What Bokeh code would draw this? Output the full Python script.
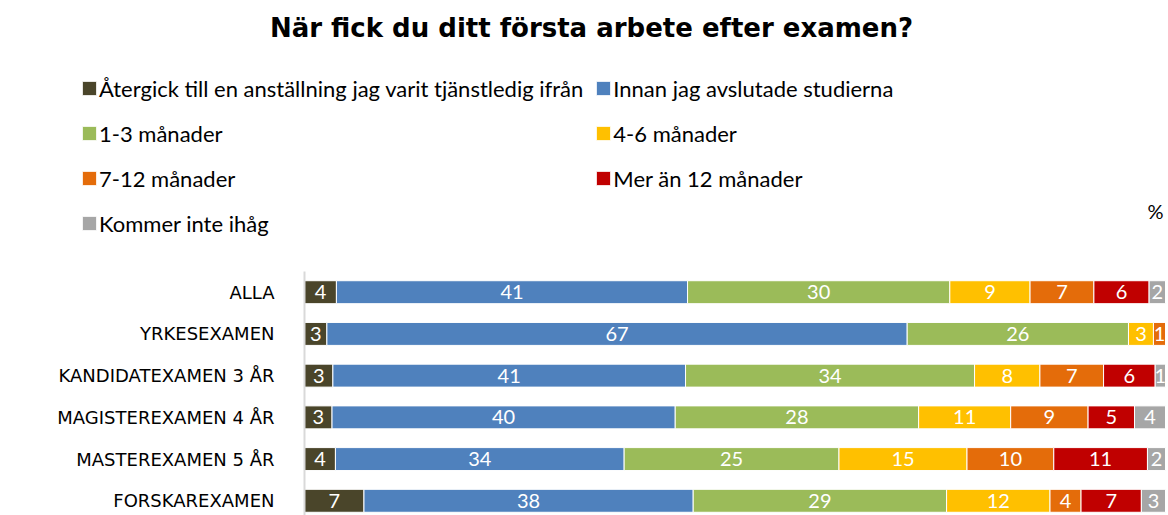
import math
from bokeh.plotting import figure
from bokeh.models import ColumnDataSource, Range1d, FixedTicker, Legend, LegendItem, Label
from bokeh.core.properties import value
from bokeh.embed import file_html
from bokeh.resources import INLINE

title_text = "När fick du ditt första arbete efter examen?"
categories = ["ALLA", "YRKESEXAMEN", "KANDIDATEXAMEN 3 ÅR", "MAGISTEREXAMEN 4 ÅR",
              "MASTEREXAMEN 5 ÅR", "FORSKAREXAMEN"]
series_names = ["Återgick till en anställning jag varit tjänstledig ifrån",
                "Innan jag avslutade studierna", "1-3 månader", "4-6 månader",
                "7-12 månader", "Mer än 12 månader", "Kommer inte ihåg"]

aterg = [3.7, 2.6, 3.3, 3.2, 3.6, 6.9]
innan = [40.7, 67.4, 41.0, 39.9, 33.6, 38.2]
m1_3 = [30.4, 25.7, 33.6, 28.3, 25.0, 29.4]
m4_6 = [9.3, 2.9, 7.6, 10.7, 14.9, 12.0]
m7_12 = [7.4, 1.4, 7.4, 9.0, 10.1, 3.6]
m12p = [6.4, 0.0, 6.0, 5.4, 10.9, 7.0]
komm = [1.9, 0.0, 1.2, 3.6, 2.1, 2.8]

colors = ["#4a452a", "#4f81bd", "#9bbb59", "#ffc000", "#e46c0a", "#c00000", "#a6a6a6"]

series = [aterg, innan, m1_3, m4_6, m7_12, m12p, komm]
n = len(categories)
ypos = [n - 1 - i for i in range(n)]
totals = [sum(s[i] for s in series) for i in range(n)]

data = {"y": ypos}
keys = []
for j, s in enumerate(series):
    k = f"s{j}"
    keys.append(k)
    data[k] = [s[i] / totals[i] * 100 for i in range(n)]
src = ColumnDataSource(data)

W, H = 1168, 515
# plot area spans the whole figure; x=0..100 maps to px 304..1165, rows 41.72 px apart
x0_px, x100_px = 304, 1165
xs = 100 / (x100_px - x0_px)
ys = 1 / 41.72
top_row_px, bottom_row_px, axis_top_px = 291.7, 500.3, 271
p = figure(width=W, height=H, output_backend="svg", toolbar_location=None,
           x_range=Range1d(-x0_px * xs, 100 + (W - x100_px) * xs),
           y_range=Range1d(-(H - bottom_row_px) * ys, 5 + top_row_px * ys),
           x_axis_type=None, min_border_left=0, min_border_right=0,
           min_border_top=0, min_border_bottom=0)
p.outline_line_color = None
p.xgrid.visible = False
p.ygrid.visible = False

renderers = p.hbar_stack(keys, y="y", height=0.55, color=colors, line_color="white",
                         line_width=1, source=src)

# segment labels
lx, ly, lt = [], [], []
for i in range(n):
    left = 0.0
    for j, s in enumerate(series):
        w = data[keys[j]][i]
        if s[i] > 0:
            lx.append(left + w / 2)
            ly.append(ypos[i])
            lt.append(str(int(math.floor(s[i] + 0.5))))
        left += w
p.text(x=lx, y=ly, text=lt, text_color="white", text_align="center",
       text_baseline="middle", text_font=value("Lato"), text_font_size="20px")

yax = p.yaxis[0]
yax.fixed_location = 0
yax.bounds = (-(H - bottom_row_px) * ys, 5 + (top_row_px - axis_top_px) * ys)
yax.ticker = FixedTicker(ticks=ypos)
yax.major_label_overrides = {ypos[i]: categories[i] for i in range(n)}
yax.major_tick_line_color = None
yax.minor_tick_line_color = None
yax.axis_line_color = "#d9d9d9"
yax.axis_line_width = 2
yax.major_label_standoff = 24
yax.major_label_text_font = "DejaVu Sans"
yax.major_label_text_font_size = "18px"
yax.major_label_text_color = "#000000"

legend = Legend(items=[LegendItem(label=series_names[j], renderers=[renderers[j]])
                       for j in range(len(series_names))],
                orientation="horizontal", ncols=2, location=(80, H - 240),
                glyph_width=18, glyph_height=18, label_standoff=1,
                label_height=34, spacing=11, padding=0, margin=0,
                border_line_color=None, background_fill_alpha=0,
                label_text_font="Lato", label_text_font_size="22px",
                label_text_color="#000000")
p.add_layout(legend, "center")

title = Label(x=591, y=H - 27, x_units="screen", y_units="screen", text=title_text,
              text_align="center", text_baseline="alphabetic", text_font="DejaVu Sans",
              text_font_style="bold", text_font_size="26px", text_color="#000000")
p.add_layout(title)

pct = Label(x=1163, y=H - 210, x_units="screen", y_units="screen", text="%",
            text_align="right", text_baseline="alphabetic", text_font="Lato",
            text_font_size="20px", text_color="#000000")
p.add_layout(pct)

open("out.html", "w").write(file_html(p, INLINE))
